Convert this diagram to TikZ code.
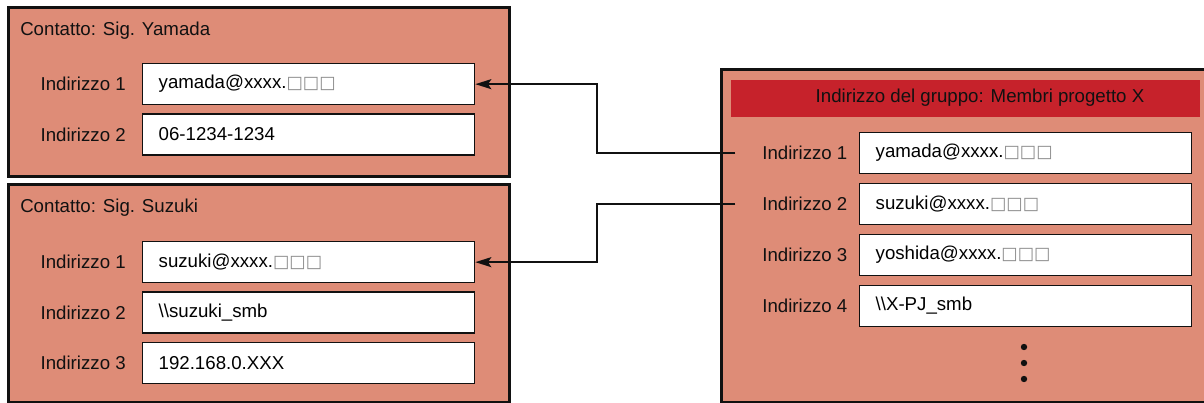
\documentclass[tikz,border=0pt]{standalone}
\usepackage{fontspec}
\setmainfont{Liberation Sans}
\newfontfamily\adrsym{DejaVu Sans}
\usepackage{tikz}
\usetikzlibrary{arrows.meta,positioning,calc}
\definecolor{adrFill}{HTML}{DE8C77}
\definecolor{adrEdge}{HTML}{111111}
\definecolor{adrHead}{HTML}{C6222B}
\definecolor{adrTofu}{HTML}{8C8C8C}
\newcommand{\adrtofu}{{\adrsym\fontsize{13}{13}\selectfont\textcolor{adrTofu}{□□□}}}
\tikzset{
  adrcard/.style={draw=adrEdge,line width=2.2pt,fill=adrFill,inner sep=0pt,anchor=north west},
  adrhead/.style={fill=adrHead,inner sep=0pt,anchor=north west,minimum width=351.75pt,minimum height=27.75pt},
  adrfield/.style={draw=adrEdge,line width=1pt,fill=white,anchor=north west,
                   text width=225pt,inner xsep=12pt,inner ysep=0pt,align=left,minimum height=30.75pt},
  adrlbl/.style={inner sep=0pt,text=adrEdge},
  adrlink/.style={-{Stealth[length=12pt,width=7.5pt,inset=2.5pt]},draw=adrEdge,line width=1.5pt},
}

\begin{document}
\begin{tikzpicture}[x=0.75pt,y=-0.75pt,font=\fontsize{14}{16.8}\selectfont,node distance=6pt]
  \useasboundingbox (0,0) rectangle (1204,403);

  % Contact cards, to the left.
  \node[adrcard,minimum width=375.75pt,minimum height=126.75pt] (cy) at (7,6) {};
  \node[adrlbl,anchor=west] (cyt) at (20,31) {Contatto: Sig. Yamada};
  \node[adrfield] (ya1) at (142,63) {yamada@xxxx.\adrtofu};
  \node[adrfield,below=of ya1] (ya2) {06-1234-1234};
  \node[adrlbl,left=12pt of ya1] (yl1) {Indirizzo 1};
  \node[adrlbl,left=12pt of ya2] (yl2) {Indirizzo 2};

  \node[adrcard,minimum width=375.75pt,minimum height=163.5pt] (cs) at (7,183) {};
  \node[adrlbl,anchor=west] (cst) at (20,208) {Contatto: Sig. Suzuki};
  \node[adrfield] (su1) at (142,241) {suzuki@xxxx.\adrtofu};
  \node[adrfield,below=of su1] (su2) {\textbackslash\textbackslash suzuki\_smb};
  \node[adrfield,below=of su2] (su3) {192.168.0.XXX};
  \node[adrlbl,left=12pt of su1] (sl1) {Indirizzo 1};
  \node[adrlbl,left=12pt of su2] (sl2) {Indirizzo 2};
  \node[adrlbl,left=12pt of su3] (sl3) {Indirizzo 3};

  % Group address, to the right.
  \node[adrcard,minimum width=367.5pt,minimum height=249.75pt] (cg) at (720,68) {};
  \node[adrhead] (gh) at (731,80) {};
  \node[adrlbl] (ght) at (980,98) {Indirizzo del gruppo: Membri progetto X};
  \node[adrfield,node distance=6.4pt] (gr1) at (859,132) {yamada@xxxx.\adrtofu};
  \node[adrfield,node distance=6.4pt,below=of gr1] (gr2) {suzuki@xxxx.\adrtofu};
  \node[adrfield,node distance=6.4pt,below=of gr2] (gr3) {yoshida@xxxx.\adrtofu};
  \node[adrfield,node distance=6.4pt,below=of gr3] (gr4) {\textbackslash\textbackslash X-PJ\_smb};
  \foreach \i in {1,...,4}
    \node[adrlbl,left=8.5pt of gr\i] (gl\i) {Indirizzo \i};
  \foreach \dy in {0,16,32}
    \fill[adrEdge] (1024,347+\dy) circle (3.2);

  % Links from the group to the contacts.
  \coordinate (bend) at (597,0);
  \coordinate (g1) at ([xshift=-20pt]gl1.west);
  \coordinate (g2) at ([xshift=-20pt]gl2.west);
  \draw[adrlink] (g1) -- (g1 -| bend) |- (ya1.east);
  \draw[adrlink] (g2) -- (g2 -| bend) |- (su1.east);
\end{tikzpicture}
\end{document}
